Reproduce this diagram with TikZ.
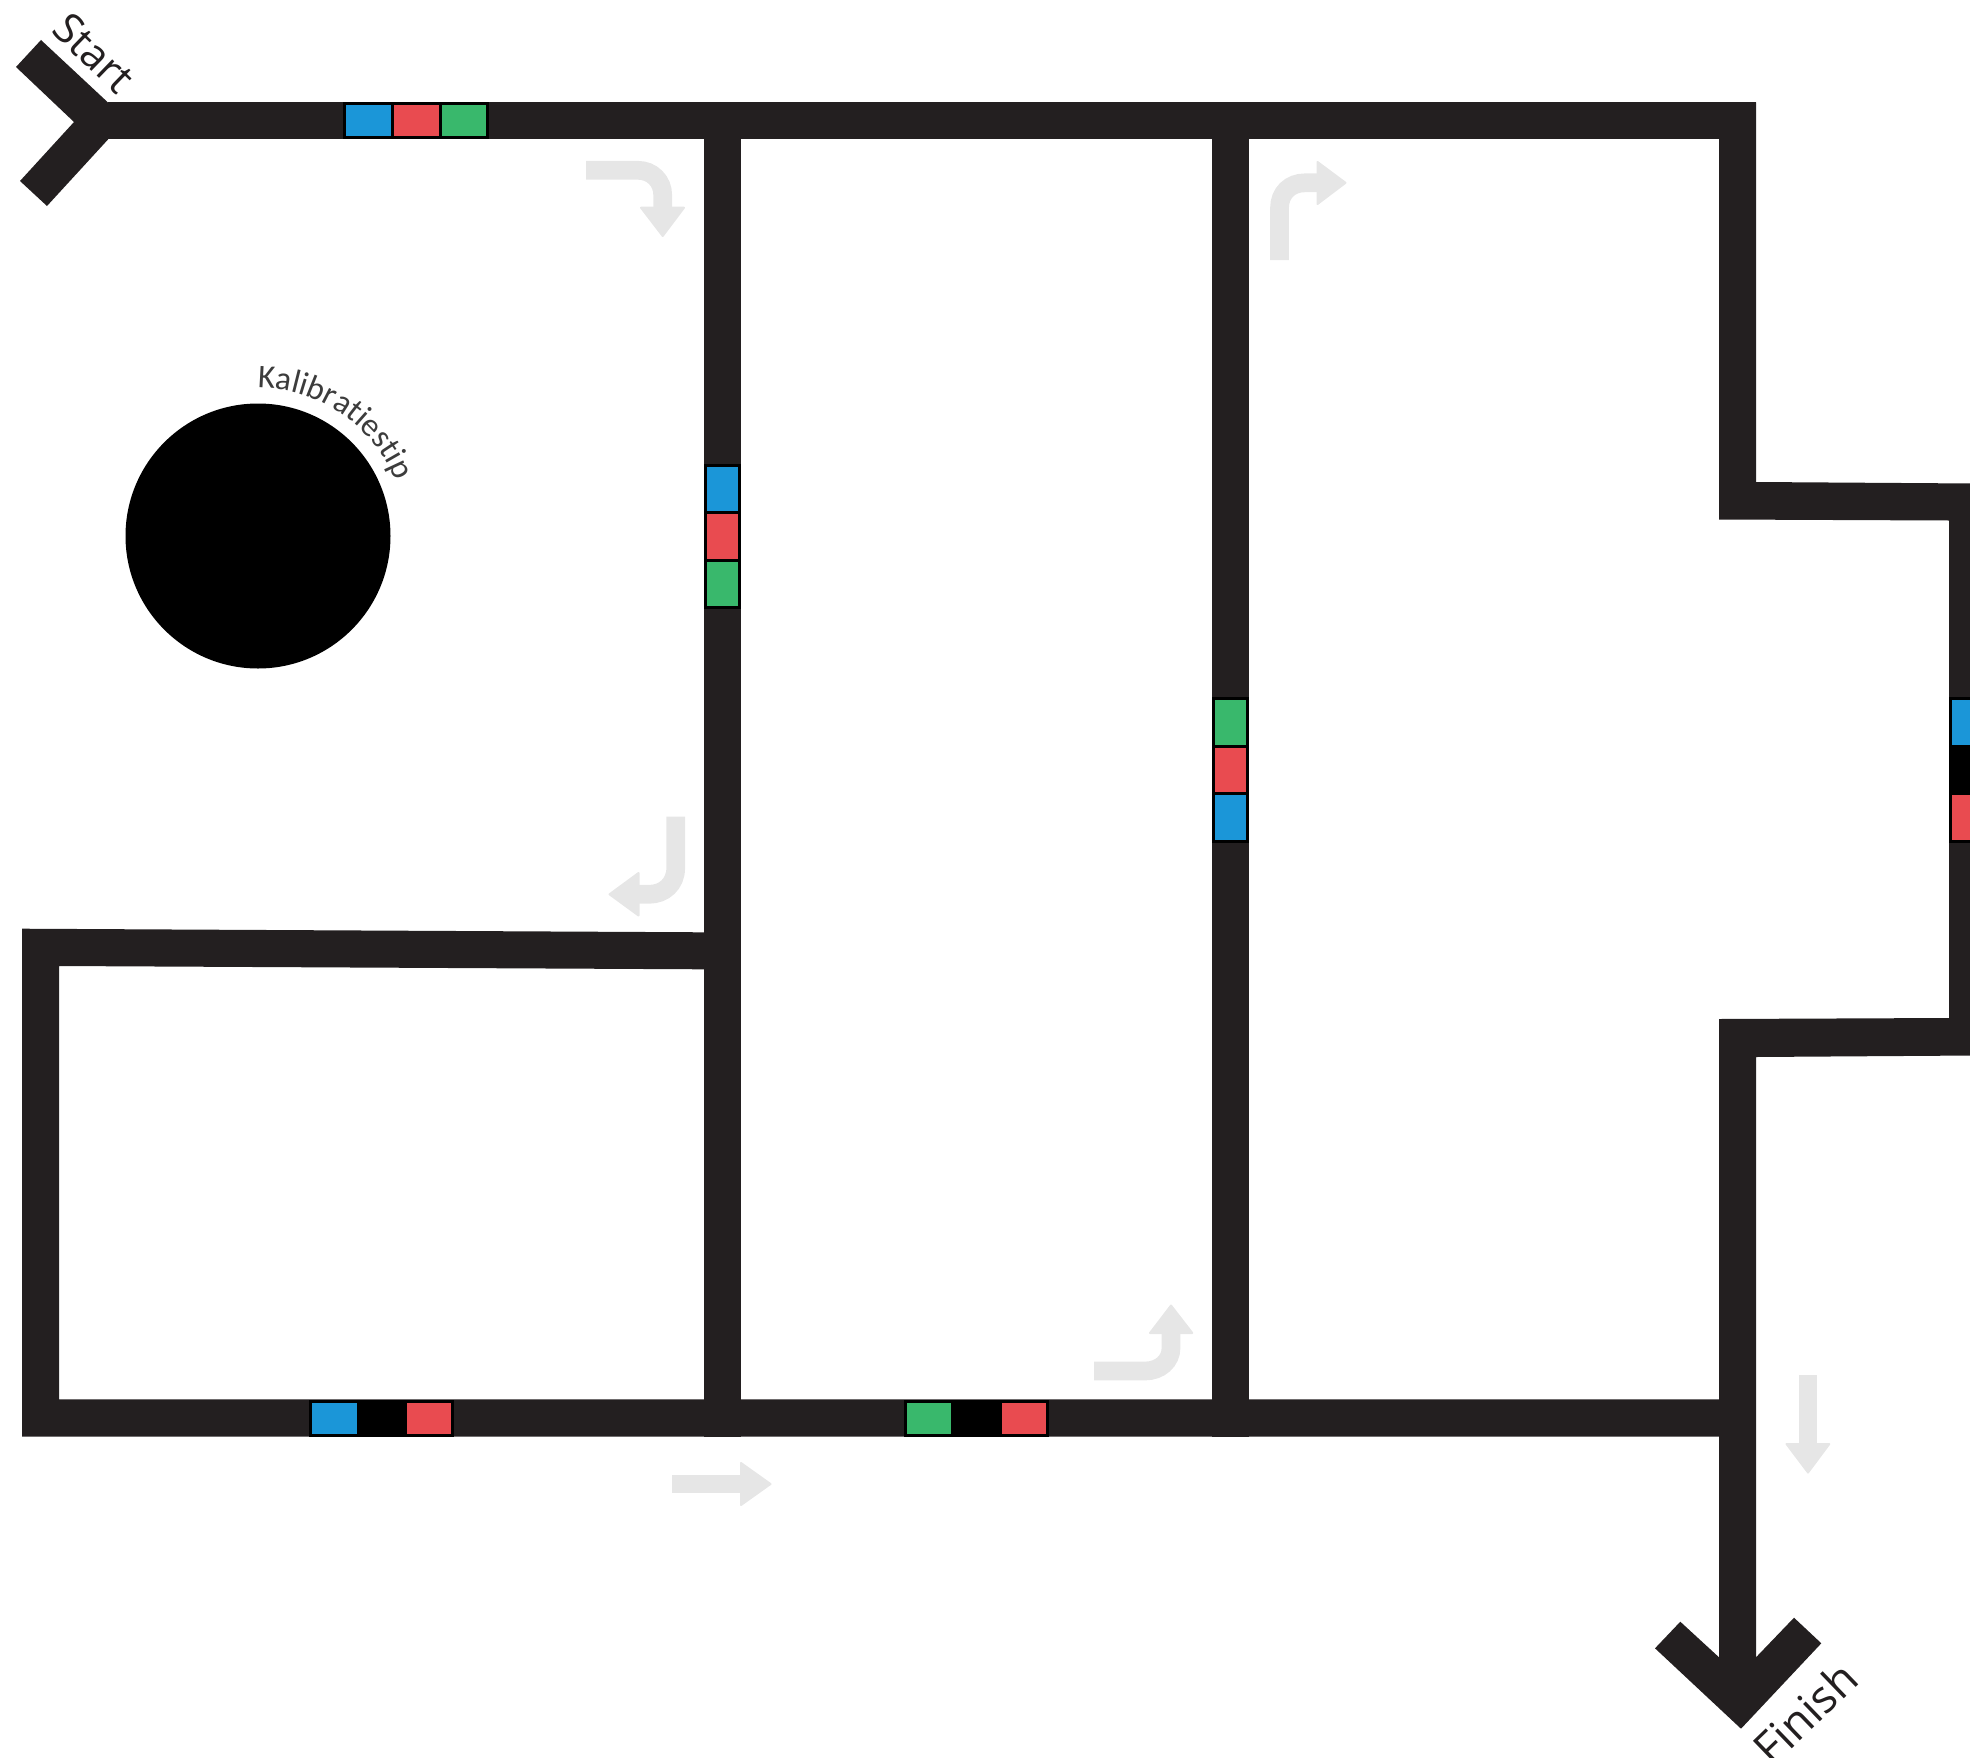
\documentclass[tikz,border=0pt]{standalone}
\usepackage{fontspec}
\setmainfont{Open Sans}
\newfontfamily\kalfont{Carlito}
\usetikzlibrary{decorations.text}
\definecolor{track}{HTML}{231F20}
\definecolor{hintgray}{HTML}{E6E6E6}
\definecolor{tileblue}{HTML}{1B96D8}
\definecolor{tilered}{HTML}{E94B50}
\definecolor{tilegreen}{HTML}{39B86C}
\tikzset{
  trackshape/.style={fill=track,draw=none},
  tile/.style={draw=black,line width=3pt},
  hintshaft/.style={draw=hintgray,line width=18.7pt},
  hinthead/.style={fill=hintgray,draw=hintgray,line width=2pt,line join=round},
  labeltext/.style={text=track,inner sep=0pt}
}
\begin{document}
\begin{tikzpicture}[x=1pt,y=-1pt]
\useasboundingbox (0,0) rectangle (1970,1758);
% start fork and top line
\path[trackshape] (41,40) -- (16,67) -- (74,122) -- (20,181) -- (47,206) -- (108,139.5) -- (108,102.5) -- cycle;
\path[trackshape] (108,102.5) rectangle (1756,139.5);
% outer right contour
\path[trackshape] (1719,102.5) -- (1756,102.5) -- (1756,482) -- (1975,483.5) -- (1975,1055.5)
  -- (1756,1057) -- (1756,1657.3) -- (1794,1617.7) -- (1821.3,1643.3) -- (1741,1728.7)
  -- (1655,1648.3) -- (1680.3,1621.7) -- (1719,1657.3) -- (1719,1019) -- (1949,1018)
  -- (1949,520.5) -- (1719,519.5) -- cycle;
% inner verticals
\path[trackshape] (704,120) rectangle (741,1436.7);
\path[trackshape] (1212,120) rectangle (1249,1436.7);
% lower left loop
\path[trackshape] (22,928.7) -- (704,932.3) -- (704,969.3) -- (59,966) -- (59,1399.3) -- (1730,1399.3)
  -- (1730,1436.7) -- (22,1436.7) -- cycle;
% calibration spot
\node[circle,fill=black,draw=none,minimum size=265pt,inner sep=0pt] (spot) at (258,536) {};
% colour tiles: top line
\path[tile,fill=tileblue] (344.8,104) rectangle (392.8,138);
\path[tile,fill=tilered] (392.8,104) rectangle (440.3,138);
\path[tile,fill=tilegreen] (440.3,104) rectangle (487,138);
% first vertical
\path[tile,fill=tileblue] (705.5,465) rectangle (739.5,512.5);
\path[tile,fill=tilered] (705.5,512.5) rectangle (739.5,560);
\path[tile,fill=tilegreen] (705.5,560) rectangle (739.5,607);
% second vertical
\path[tile,fill=tilegreen] (1213.5,698.8) rectangle (1247.5,746);
\path[tile,fill=tilered] (1213.5,746) rectangle (1247.5,793.5);
\path[tile,fill=tileblue] (1213.5,793.5) rectangle (1247.5,841);
% right side
\path[tile,fill=tileblue] (1950.5,698.8) rectangle (1985,746);
\path[tile,fill=black] (1950.5,746) rectangle (1985,793.5);
\path[tile,fill=tilered] (1950.5,793.5) rectangle (1985,841);
% bottom line
\path[tile,fill=tileblue] (310.5,1401) rectangle (358.5,1435.5);
\path[tile,fill=black] (358.5,1401) rectangle (405.5,1435.5);
\path[tile,fill=tilered] (405.5,1401) rectangle (452.5,1435.5);
\path[tile,fill=tilegreen] (905,1401) rectangle (952.5,1435.5);
\path[tile,fill=black] (952.5,1401) rectangle (1000,1435.5);
\path[tile,fill=tilered] (1000,1401) rectangle (1047.5,1435.5);
% direction hints
\draw[hintshaft] (586,170.3) -- (638,170.3) .. controls (652,170.3) and (662.7,181) .. (662.7,195) -- (662.7,208);
\path[hinthead] (641,207.7) -- (684,207.7) -- (662.7,236) -- cycle;
\draw[hintshaft] (675.7,816.7) -- (675.7,868) .. controls (675.7,884) and (664,894.3) .. (649,894.3) -- (638,894.3);
\path[hinthead] (638.5,873) -- (638.5,915.5) -- (609.5,894.3) -- cycle;
\draw[hintshaft] (672.3,1484) -- (742,1484);
\path[hinthead] (741,1463) -- (741,1505) -- (770.5,1484) -- cycle;
\draw[hintshaft] (1094,1371) -- (1145,1371) .. controls (1160,1371) and (1171,1361) .. (1171,1348) -- (1171,1334);
\path[hinthead] (1150,1333) -- (1192.3,1333) -- (1171,1305.5) -- cycle;
\draw[hintshaft] (1279.5,260) -- (1279.5,208) .. controls (1279.5,193) and (1290,182.8) .. (1305,182.8) -- (1317,182.8);
\path[hinthead] (1317.5,162) -- (1317.5,204) -- (1345.5,182.8) -- cycle;
\draw[hintshaft] (1808,1375) -- (1808,1444);
\path[hinthead] (1786.5,1444) -- (1829.3,1444) -- (1808,1472.5) -- cycle;
% labels
\node[labeltext,rotate=-44,font=\fontsize{42}{42}\selectfont] (startlabel) at (94,53) {Start};
\node[labeltext,rotate=44,font=\fontsize{45}{45}\selectfont] (finishlabel) at (1805,1713) {Finish};
\path[postaction={decorate,decoration={text along path,text align=center,
   text={|\kalfont\fontsize{33}{33}\selectfont\color[HTML]{3C3C3C}|Kalibratiestip}}}]
   (spot.center) ++(-92:148) arc[start angle=-92,end angle=-20,radius=148];
\end{tikzpicture}
\end{document}
